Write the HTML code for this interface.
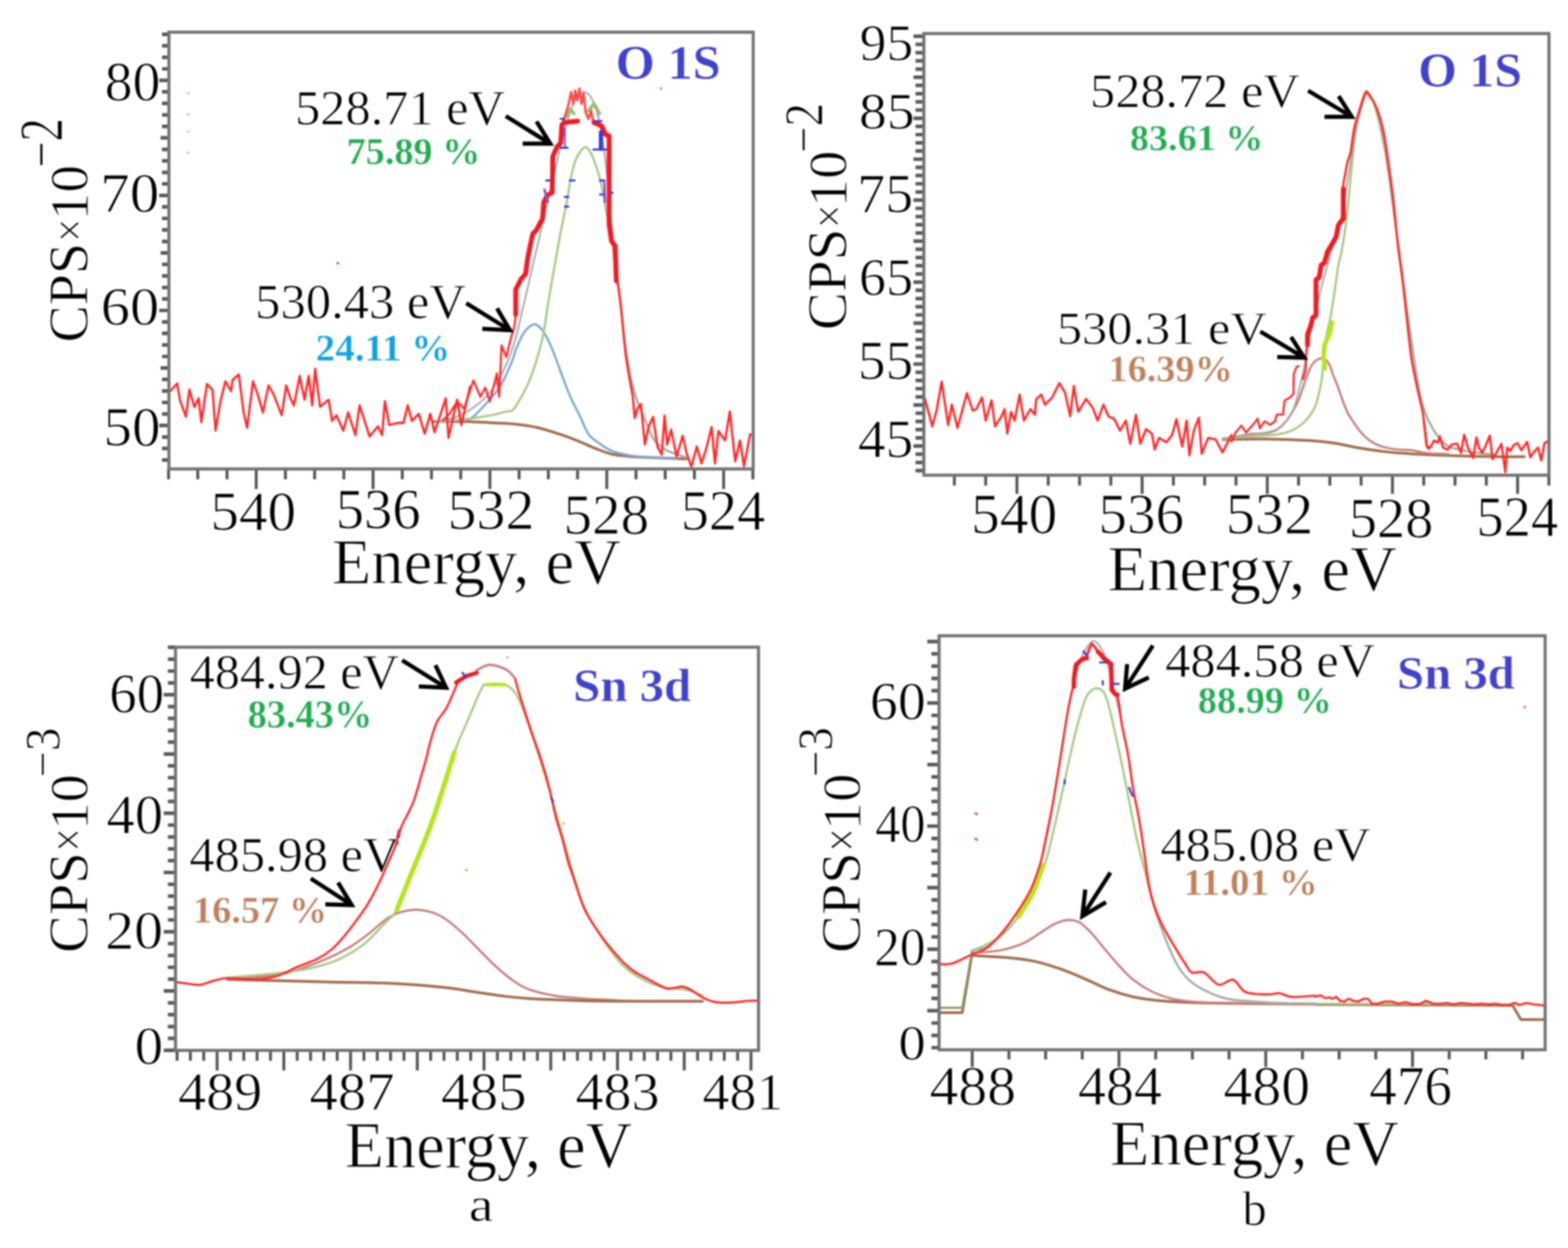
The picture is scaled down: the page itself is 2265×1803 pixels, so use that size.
<!DOCTYPE html>
<html><head><meta charset="utf-8"><title>XPS spectra</title>
<style>html,body{margin:0;padding:0;background:#fff;width:2265px;height:1803px;overflow:hidden}svg{display:block;filter:blur(0.9px)}</style>
</head><body>
<svg width="2265" height="1803" viewBox="0 0 2265 1803" font-family='"Liberation Serif", "Times New Roman", serif'>
<rect width="2265" height="1803" fill="#fff"/>
<path d="M234.0,664.6 H244.0 M234.0,647.9 H244.0 M234.0,631.3 H244.0 M230.0,614.7 H244.0 M234.0,598.1 H244.0 M234.0,581.5 H244.0 M234.0,564.8 H244.0 M234.0,548.2 H244.0 M232.0,531.6 H244.0 M234.0,515.0 H244.0 M234.0,498.4 H244.0 M234.0,481.7 H244.0 M234.0,465.1 H244.0 M230.0,448.5 H244.0 M234.0,431.9 H244.0 M234.0,415.3 H244.0 M234.0,398.6 H244.0 M234.0,382.0 H244.0 M232.0,365.4 H244.0 M234.0,348.8 H244.0 M234.0,332.2 H244.0 M234.0,315.5 H244.0 M234.0,298.9 H244.0 M230.0,282.3 H244.0 M234.0,265.7 H244.0 M234.0,249.1 H244.0 M234.0,232.4 H244.0 M234.0,215.8 H244.0 M232.0,199.2 H244.0 M234.0,182.6 H244.0 M234.0,166.0 H244.0 M234.0,149.3 H244.0 M234.0,132.7 H244.0 M230.0,116.1 H244.0 M234.0,99.5 H244.0 M234.0,82.9 H244.0 M234.0,66.2 H244.0 M234.0,49.6 H244.0" stroke="#5a5a5a" stroke-width="5.2" fill="none"/>
<path d="M1087.5,677.5 V692.5 M1045.3,677.5 V706.5 M1003.1,677.5 V692.5 M960.9,677.5 V692.5 M918.7,677.5 V692.5 M876.5,677.5 V706.5 M834.3,677.5 V692.5 M792.1,677.5 V692.5 M749.9,677.5 V692.5 M707.7,677.5 V706.5 M665.5,677.5 V692.5 M623.3,677.5 V692.5 M581.1,677.5 V692.5 M538.9,677.5 V706.5 M496.7,677.5 V692.5 M454.5,677.5 V692.5 M412.3,677.5 V692.5 M370.1,677.5 V706.5 M327.9,677.5 V692.5 M285.7,677.5 V692.5 M243.5,677.5 V692.5" stroke="#555" stroke-width="4.2" fill="none"/>
<path d="M1322.5,679.9 H1334.5 M1322.5,668.1 H1334.5 M1322.5,656.2 H1334.5 M1319.5,644.4 H1334.5 M1322.5,632.6 H1334.5 M1322.5,620.7 H1334.5 M1322.5,608.9 H1334.5 M1322.5,597.0 H1334.5 M1319.5,585.2 H1334.5 M1322.5,573.4 H1334.5 M1322.5,561.5 H1334.5 M1322.5,549.7 H1334.5 M1322.5,537.8 H1334.5 M1319.5,526.0 H1334.5 M1322.5,514.2 H1334.5 M1322.5,502.3 H1334.5 M1322.5,490.5 H1334.5 M1322.5,478.6 H1334.5 M1319.5,466.8 H1334.5 M1322.5,455.0 H1334.5 M1322.5,443.1 H1334.5 M1322.5,431.3 H1334.5 M1322.5,419.4 H1334.5 M1319.5,407.6 H1334.5 M1322.5,395.8 H1334.5 M1322.5,383.9 H1334.5 M1322.5,372.1 H1334.5 M1322.5,360.2 H1334.5 M1319.5,348.4 H1334.5 M1322.5,336.6 H1334.5 M1322.5,324.7 H1334.5 M1322.5,312.9 H1334.5 M1322.5,301.0 H1334.5 M1319.5,289.2 H1334.5 M1322.5,277.4 H1334.5 M1322.5,265.5 H1334.5 M1322.5,253.7 H1334.5 M1322.5,241.8 H1334.5 M1319.5,230.0 H1334.5 M1322.5,218.2 H1334.5 M1322.5,206.3 H1334.5 M1322.5,194.5 H1334.5 M1322.5,182.6 H1334.5 M1319.5,170.8 H1334.5 M1322.5,159.0 H1334.5 M1322.5,147.1 H1334.5 M1322.5,135.3 H1334.5 M1322.5,123.4 H1334.5 M1319.5,111.6 H1334.5 M1322.5,99.8 H1334.5 M1322.5,87.9 H1334.5 M1322.5,76.1 H1334.5 M1322.5,64.2 H1334.5 M1319.5,52.4 H1334.5" stroke="#5a5a5a" stroke-width="5.2" fill="none"/>
<path d="M2237.4,686.5 V701.5 M2192.2,686.5 V713.5 M2147.0,686.5 V701.5 M2101.8,686.5 V701.5 M2056.6,686.5 V701.5 M2011.4,686.5 V713.5 M1966.2,686.5 V701.5 M1921.0,686.5 V701.5 M1875.8,686.5 V701.5 M1830.6,686.5 V713.5 M1785.4,686.5 V701.5 M1740.2,686.5 V701.5 M1695.0,686.5 V701.5 M1649.8,686.5 V713.5 M1604.6,686.5 V701.5 M1559.4,686.5 V701.5 M1514.2,686.5 V701.5 M1469.0,686.5 V713.5 M1423.8,686.5 V701.5 M1378.6,686.5 V701.5" stroke="#555" stroke-width="4.2" fill="none"/>
<path d="M236.5,1517.3 H253.5 M242.5,1500.2 H253.5 M242.5,1483.1 H253.5 M242.5,1465.9 H253.5 M242.5,1448.8 H253.5 M236.5,1431.7 H253.5 M242.5,1414.6 H253.5 M242.5,1397.5 H253.5 M242.5,1380.3 H253.5 M242.5,1363.2 H253.5 M236.5,1346.1 H253.5 M242.5,1329.0 H253.5 M242.5,1311.9 H253.5 M242.5,1294.7 H253.5 M242.5,1277.6 H253.5 M236.5,1260.5 H253.5 M242.5,1243.4 H253.5 M242.5,1226.3 H253.5 M242.5,1209.1 H253.5 M242.5,1192.0 H253.5 M236.5,1174.9 H253.5 M242.5,1157.8 H253.5 M242.5,1140.7 H253.5 M242.5,1123.5 H253.5 M242.5,1106.4 H253.5 M236.5,1089.3 H253.5 M242.5,1072.2 H253.5 M242.5,1055.1 H253.5 M242.5,1037.9 H253.5 M242.5,1020.8 H253.5 M236.5,1003.7 H253.5 M242.5,986.6 H253.5 M242.5,969.5 H253.5 M242.5,952.3 H253.5 M242.5,935.2 H253.5" stroke="#5a5a5a" stroke-width="5.2" fill="none"/>
<path d="M1084.8,1517.5 V1546.5 M1065.5,1517.5 V1532.5 M1046.2,1517.5 V1532.5 M1027.0,1517.5 V1532.5 M1007.7,1517.5 V1532.5 M988.4,1517.5 V1546.5 M969.1,1517.5 V1532.5 M949.8,1517.5 V1532.5 M930.6,1517.5 V1532.5 M911.3,1517.5 V1532.5 M892.0,1517.5 V1546.5 M872.7,1517.5 V1532.5 M853.4,1517.5 V1532.5 M834.2,1517.5 V1532.5 M814.9,1517.5 V1532.5 M795.6,1517.5 V1546.5 M776.3,1517.5 V1532.5 M757.0,1517.5 V1532.5 M737.8,1517.5 V1532.5 M718.5,1517.5 V1532.5 M699.2,1517.5 V1546.5 M679.9,1517.5 V1532.5 M660.6,1517.5 V1532.5 M641.4,1517.5 V1532.5 M622.1,1517.5 V1532.5 M602.8,1517.5 V1546.5 M583.5,1517.5 V1532.5 M564.2,1517.5 V1532.5 M545.0,1517.5 V1532.5 M525.7,1517.5 V1532.5 M506.4,1517.5 V1546.5 M487.1,1517.5 V1532.5 M467.8,1517.5 V1532.5 M448.6,1517.5 V1532.5 M429.3,1517.5 V1532.5 M410.0,1517.5 V1546.5 M390.7,1517.5 V1532.5 M371.4,1517.5 V1532.5 M352.2,1517.5 V1532.5 M332.9,1517.5 V1532.5 M313.6,1517.5 V1546.5 M294.3,1517.5 V1532.5 M275.0,1517.5 V1532.5 M255.8,1517.5 V1532.5" stroke="#555" stroke-width="4.2" fill="none"/>
<path d="M1345.5,1513.5 H1356.5 M1345.5,1495.8 H1356.5 M1345.5,1478.0 H1356.5 M1339.5,1460.2 H1356.5 M1345.5,1442.4 H1356.5 M1345.5,1424.6 H1356.5 M1345.5,1406.9 H1356.5 M1345.5,1389.1 H1356.5 M1339.5,1371.3 H1356.5 M1345.5,1353.5 H1356.5 M1345.5,1335.7 H1356.5 M1345.5,1318.0 H1356.5 M1345.5,1300.2 H1356.5 M1339.5,1282.4 H1356.5 M1345.5,1264.6 H1356.5 M1345.5,1246.8 H1356.5 M1345.5,1229.1 H1356.5 M1345.5,1211.3 H1356.5 M1339.5,1193.5 H1356.5 M1345.5,1175.7 H1356.5 M1345.5,1157.9 H1356.5 M1345.5,1140.2 H1356.5 M1345.5,1122.4 H1356.5 M1339.5,1104.6 H1356.5 M1345.5,1086.8 H1356.5 M1345.5,1069.0 H1356.5 M1345.5,1051.3 H1356.5 M1345.5,1033.5 H1356.5 M1339.5,1015.7 H1356.5 M1345.5,997.9 H1356.5 M1345.5,980.1 H1356.5 M1345.5,962.4 H1356.5 M1345.5,944.6 H1356.5 M1339.5,926.8 H1356.5" stroke="#5a5a5a" stroke-width="5.2" fill="none"/>
<path d="M2199.4,1516.6 V1530.6 M2146.4,1516.6 V1530.6 M2093.4,1516.6 V1530.6 M2040.4,1516.6 V1541.6 M1987.4,1516.6 V1530.6 M1934.4,1516.6 V1530.6 M1881.4,1516.6 V1530.6 M1828.4,1516.6 V1541.6 M1775.4,1516.6 V1530.6 M1722.4,1516.6 V1530.6 M1669.4,1516.6 V1530.6 M1616.4,1516.6 V1541.6 M1563.4,1516.6 V1530.6 M1510.4,1516.6 V1530.6 M1457.4,1516.6 V1530.6 M1404.4,1516.6 V1541.6" stroke="#555" stroke-width="4.2" fill="none"/>
<path d="M626.0,609.0 C634.0,609.0 660.2,608.7 673.8,609.0 C687.4,609.3 696.3,610.1 707.6,610.7 C718.9,611.3 730.1,611.3 741.4,612.4 C752.7,613.5 763.9,615.0 775.2,617.5 C786.5,620.0 798.9,624.1 809.0,627.4 C819.1,630.7 827.5,634.1 836.0,637.5 C844.5,640.9 851.8,644.6 859.7,647.7 C867.6,650.8 874.9,654.0 883.4,656.0 C891.9,658.0 900.4,658.5 910.5,659.4 C920.6,660.3 930.8,660.6 944.3,661.2 C957.8,661.8 983.7,662.7 991.6,663.0" fill="none" stroke="#a36e4e" stroke-width="4" stroke-linejoin="round" stroke-linecap="round" />
<path d="M630.0,610.0 C635.0,609.5 651.6,608.0 660.0,607.0 C668.4,606.0 672.7,609.0 680.6,604.0 C688.5,599.0 700.3,585.2 707.6,577.0 C714.9,568.8 719.1,564.3 724.5,555.0 C729.9,545.7 736.6,529.2 740.0,521.0 C743.4,512.8 742.5,512.0 745.1,505.6 C747.7,499.2 752.1,488.2 755.4,482.6 C758.7,477.0 762.0,474.4 765.0,472.0 C768.0,469.6 770.2,467.6 773.3,468.5 C776.4,469.4 780.2,472.9 783.6,477.4 C787.0,481.9 790.4,488.1 793.8,495.4 C797.2,502.7 800.7,512.0 804.1,521.0 C807.5,530.0 811.0,540.2 814.4,549.2 C817.8,558.2 820.8,566.4 824.6,574.9 C828.4,583.4 833.2,591.8 837.4,600.5 C841.6,609.2 845.4,620.4 850.0,627.0 C854.6,633.6 859.5,636.0 865.0,640.0 C870.5,644.0 875.5,648.0 883.0,651.0 C890.5,654.0 900.5,656.3 910.0,658.0 C919.5,659.7 928.7,660.3 940.0,661.0 C951.3,661.7 971.7,661.8 978.0,662.0" fill="none" stroke="#7ea6d6" stroke-width="3.2" stroke-linejoin="round" stroke-linecap="round" />
<path d="M630.0,609.0 C637.3,608.4 661.1,606.9 674.0,605.4 C686.9,603.9 698.6,602.0 707.6,600.3 C716.6,598.6 722.5,596.5 727.9,595.3 C733.3,594.0 736.7,594.9 740.0,592.8 C743.3,590.7 744.3,588.1 747.7,582.6 C751.1,577.1 756.6,567.6 760.5,559.5 C764.4,551.4 767.8,542.3 770.8,533.8 C773.8,525.2 776.1,516.7 778.5,508.2 C780.9,499.7 782.8,493.7 784.9,482.6 C787.0,471.5 789.4,453.5 791.3,441.5 C793.2,429.5 794.5,421.9 796.4,410.8 C798.3,399.7 800.7,386.9 802.8,374.9 C804.9,362.9 807.3,349.3 809.2,339.0 C811.1,328.7 812.7,321.9 814.4,313.3 C816.1,304.8 817.8,297.1 819.5,287.7 C821.2,278.3 822.5,266.6 824.6,257.0 C826.7,247.4 828.8,237.3 832.0,230.0 C835.2,222.7 840.6,215.5 843.8,213.3 C847.0,211.1 848.6,214.0 851.0,217.0 C853.4,220.0 855.6,225.1 858.0,231.3 C860.4,237.5 863.5,246.7 865.6,254.4 C867.7,262.1 869.3,269.7 870.8,277.4 C872.3,285.1 873.1,292.8 874.6,300.5 C876.1,308.2 878.2,316.3 879.7,323.6 C881.2,330.9 882.5,337.3 883.6,344.1 C884.7,350.9 885.2,357.0 886.2,364.6 C887.2,372.2 888.4,382.1 889.5,390.0 C890.6,397.9 891.8,403.2 893.0,412.0 C894.2,420.8 895.7,431.0 897.0,443.0 C898.3,455.0 899.6,472.2 901.0,484.0 C902.4,495.8 903.8,503.8 905.5,514.0 C907.2,524.2 908.8,534.8 911.0,545.0 C913.2,555.2 916.2,566.5 919.0,575.0 C921.8,583.5 924.7,589.2 927.5,596.0 C930.3,602.8 932.6,609.2 935.7,616.0 C938.8,622.8 941.6,631.3 946.0,637.0 C950.4,642.7 956.3,646.7 962.0,650.0 C967.7,653.3 975.1,655.2 980.0,657.0 C984.9,658.8 989.7,660.3 991.6,661.0" fill="none" stroke="#a9c985" stroke-width="3.2" stroke-linejoin="round" stroke-linecap="round" />
<path d="M630.0,609.0 C635.0,607.8 650.8,605.5 660.0,602.0 C669.2,598.5 677.5,593.3 685.0,588.0 C692.5,582.7 698.8,577.2 705.0,570.0 C711.2,562.8 716.8,554.2 722.0,545.0 C727.2,535.8 732.0,525.0 736.0,515.0 C740.0,505.0 743.2,495.0 746.0,485.0 C748.8,475.0 750.7,465.0 753.0,455.0 C755.3,445.0 757.7,435.0 760.0,425.0 C762.3,415.0 764.7,405.0 767.0,395.0 C769.3,385.0 771.7,375.0 774.0,365.0 C776.3,355.0 778.7,345.0 781.0,335.0 C783.3,325.0 785.7,315.0 788.0,305.0 C790.3,295.0 792.7,285.0 795.0,275.0 C797.3,265.0 799.5,255.8 802.0,245.0 C804.5,234.2 807.3,220.8 810.0,210.0 C812.7,199.2 815.3,189.2 818.0,180.0 C820.7,170.8 823.3,161.7 826.0,155.0 C828.7,148.3 831.2,143.7 834.0,140.0 C836.8,136.3 840.2,133.5 843.0,133.0 C845.8,132.5 848.5,134.2 851.0,137.0 C853.5,139.8 855.7,144.2 858.0,150.0 C860.3,155.8 862.8,162.8 865.0,172.0 C867.2,181.2 869.2,192.8 871.0,205.0 C872.8,217.2 874.5,230.8 876.0,245.0 C877.5,259.2 878.7,275.8 880.0,290.0 C881.3,304.2 882.7,316.7 884.0,330.0 C885.3,343.3 886.5,356.3 888.0,370.0 C889.5,383.7 891.5,399.8 893.0,412.0 C894.5,424.2 895.7,431.0 897.0,443.0 C898.3,455.0 899.6,472.2 901.0,484.0 C902.4,495.8 903.8,503.8 905.5,514.0 C907.2,524.2 908.8,534.8 911.0,545.0 C913.2,555.2 916.2,566.5 919.0,575.0 C921.8,583.5 924.7,589.2 927.5,596.0 C930.3,602.8 932.6,609.2 935.7,616.0 C938.8,622.8 941.6,631.3 946.0,637.0 C950.4,642.7 956.3,646.7 962.0,650.0 C967.7,653.3 975.1,655.2 980.0,657.0 C984.9,658.8 989.7,660.3 991.6,661.0" fill="none" stroke="#a8a8a8" stroke-width="2.5" stroke-linejoin="round" stroke-linecap="round" />
<path d="M246.0,565.0 L256.0,554.0 L260.0,578.0 L268.6,602.0 L273.7,563.0 L280.8,588.0 L287.0,575.5 L291.0,610.0 L299.0,555.0 L307.0,563.0 L311.4,622.0 L318.6,579.6 L325.7,551.0 L333.9,565.0 L336.0,549.0 L345.0,541.0 L352.0,596.0 L357.0,618.0 L365.5,551.0 L372.7,571.0 L379.8,596.0 L388.0,557.0 L395.0,569.0 L407.0,600.0 L413.5,557.0 L419.6,575.5 L424.7,585.7 L433.0,543.0 L440.0,577.5 L446.0,543.0 L451.0,585.7 L455.3,532.7 L462.4,587.8 L474.7,577.5 L479.8,608.0 L486.0,600.0 L496.0,622.4 L503.0,596.0 L513.5,628.6 L519.6,585.7 L533.9,630.6 L546.0,616.0 L552.0,628.6 L556.0,579.6 L562.4,614.0 L574.7,611.0 L582.9,611.0 L589.0,585.7 L595.0,608.0 L605.0,598.0 L613.5,626.5 L621.6,598.0 L627.8,624.5 L644.0,575.5 L648.0,632.6 L660.4,577.5 L666.5,614.0 L678.8,559.0" fill="none" stroke="#ff2a2a" stroke-width="3.3" stroke-linejoin="round" stroke-linecap="round" />
<path d="M640.0,607.1 L650.1,597.0 L660.3,580.1 L670.4,590.2 L683.9,549.6 L694.1,573.3 L700.9,559.8 L707.6,580.1 L717.8,539.5 L721.1,573.3 L724.5,498.9 L731.3,515.8 L738.0,488.8 L743.1,471.9 L744.8,455.0" fill="none" stroke="#ff2a2a" stroke-width="3" stroke-linejoin="round" stroke-linecap="round" />
<path d="M890.0,405.6 L893.0,412.0 L897.0,443.0 L901.0,484.0 L904.0,514.0 L909.0,545.0 L914.0,572.0 L917.0,604.0 L921.0,590.0 L925.8,583.8 L931.6,642.3 L936.5,618.0 L943.3,602.3 L950.0,646.0 L956.0,656.9 L960.0,600.4 L963.8,642.3 L969.6,620.8 L977.4,659.8 L986.2,629.6 L992.0,655.0 L998.8,674.4 L1006.6,645.2 L1013.4,669.5 L1020.3,648.1 L1028.0,617.0 L1032.9,669.5 L1037.8,622.8 L1047.5,636.4 L1054.3,594.5 L1062.1,666.6 L1069.0,636.4 L1074.8,673.4 L1083.6,627.7 L1086.0,627.7" fill="none" stroke="#ff2a2a" stroke-width="3.3" stroke-linejoin="round" stroke-linecap="round" />
<path d="M818.0,168.0 L824.0,158.0 L829.0,164.0" fill="none" stroke="#98c070" stroke-width="5" stroke-linejoin="round" stroke-linecap="round" />
<path d="M850.0,160.0 L858.0,150.0 L866.0,164.0" fill="none" stroke="#98c070" stroke-width="5" stroke-linejoin="round" stroke-linecap="round" />
<path d="M813.0,178.0 L817.0,165.0 L821.0,152.0 L825.0,133.0 L828.0,150.0 L831.0,131.0 L834.0,145.0 L837.0,128.0 L840.0,150.0 L843.0,135.0 L846.0,162.0 L850.0,172.0 L854.0,160.0 L857.0,177.0" fill="none" stroke="#ff4a4a" stroke-width="3.5" stroke-linejoin="round" stroke-linecap="round" />
<path d="M745.0,454.0 L745.0,418.5 L752.8,403.0 L759.2,396.0 L762.0,375.0 L766.2,353.5 L769.7,337.8 L775.0,332.5 L780.2,322.0 L783.7,316.8 L785.5,292.3 L790.7,281.8 L797.7,278.3 L798.6,225.9 L804.7,211.9 L810.0,206.6 L811.7,180.4 L815.2,176.9 L834.4,175.0" fill="none" stroke="#ee1c25" stroke-width="7" stroke-linejoin="round" stroke-linecap="round" />
<path d="M858.0,177.0 L869.4,182.2 L874.6,194.4 L879.9,196.2 L879.9,323.8 L883.4,348.3 L888.6,355.2 L890.3,405.6" fill="none" stroke="#ee1c25" stroke-width="7" stroke-linejoin="round" stroke-linecap="round" />
<path d="M1766.6,634.9 C1776.6,634.8 1805.4,633.9 1826.4,634.2 C1847.5,634.5 1876.3,635.6 1892.9,636.5 C1909.5,637.5 1915.0,638.2 1926.1,639.9 C1937.2,641.5 1948.2,644.6 1959.3,646.5 C1970.4,648.4 1981.5,650.1 1992.5,651.5 C2003.6,652.9 2009.1,653.7 2025.7,654.8 C2042.4,655.9 2070.0,657.3 2092.2,658.1 C2114.3,659.0 2140.3,659.5 2158.6,659.8 C2176.9,660.1 2194.6,659.8 2201.8,659.8" fill="none" stroke="#a36e4e" stroke-width="4" stroke-linejoin="round" stroke-linecap="round" />
<path d="M1766.6,636.0 C1770.5,635.0 1782.8,631.5 1790.0,630.0 C1797.2,628.5 1803.3,627.4 1809.9,626.7 C1816.5,626.0 1823.9,626.7 1829.7,625.7 C1835.5,624.7 1840.0,623.5 1844.6,620.7 C1849.2,617.9 1853.7,613.2 1857.5,608.8 C1861.3,604.3 1864.4,599.0 1867.4,594.0 C1870.4,589.0 1872.8,584.9 1875.3,579.1 C1877.8,573.3 1880.0,565.9 1882.3,559.3 C1884.6,552.7 1886.7,545.3 1889.2,539.5 C1891.7,533.7 1894.1,528.2 1897.1,524.6 C1900.1,521.0 1904.2,518.6 1907.0,517.7 C1909.8,516.8 1911.7,517.5 1914.0,519.0 C1916.3,520.5 1918.8,523.5 1920.6,527.0 C1922.4,530.5 1923.0,534.7 1925.0,540.0 C1927.0,545.3 1930.2,552.4 1932.5,558.6 C1934.8,564.8 1936.7,570.9 1939.0,577.1 C1941.3,583.3 1943.6,590.1 1946.4,595.7 C1949.2,601.3 1952.6,605.9 1955.7,610.5 C1958.8,615.1 1961.5,619.5 1964.9,623.5 C1968.3,627.5 1972.1,631.5 1976.0,634.6 C1979.9,637.7 1983.8,640.0 1988.1,642.0 C1992.4,644.0 1996.6,645.5 2002.0,646.7 C2007.4,648.0 2014.4,648.9 2020.6,649.5 C2026.8,650.1 2032.4,649.6 2039.0,650.4 C2045.6,651.2 2051.2,653.6 2060.0,654.5 C2068.8,655.4 2086.7,655.8 2092.0,656.0" fill="none" stroke="#c97f7f" stroke-width="3.2" stroke-linejoin="round" stroke-linecap="round" />
<path d="M1766.6,633.2 C1772.2,632.8 1791.1,631.6 1800.0,631.0 C1808.9,630.4 1812.4,630.2 1819.8,629.7 C1827.2,629.2 1837.2,628.9 1844.6,627.7 C1852.0,626.5 1858.6,625.0 1864.4,622.7 C1870.2,620.4 1875.2,616.9 1879.3,613.8 C1883.4,610.7 1885.9,608.0 1889.2,603.9 C1892.5,599.8 1896.4,594.8 1899.0,589.0 C1901.6,583.2 1903.3,575.8 1905.0,569.2 C1906.7,562.6 1908.0,555.7 1909.0,549.4 C1910.0,543.1 1910.5,537.7 1911.0,531.5 C1911.5,525.3 1911.4,518.1 1912.0,512.0 C1912.6,505.9 1913.7,500.3 1914.5,495.0 C1915.3,489.7 1915.9,485.3 1917.0,480.0 C1918.1,474.7 1919.7,469.7 1921.0,463.0 C1922.3,456.3 1923.6,448.8 1925.0,440.0 C1926.4,431.2 1928.2,419.2 1929.5,410.0 C1930.8,400.8 1931.6,392.8 1933.0,385.0 C1934.4,377.2 1936.3,371.4 1937.8,363.5 C1939.3,355.6 1940.9,346.1 1942.2,337.3 C1943.5,328.6 1944.7,319.8 1945.7,311.0 C1946.7,302.2 1947.4,293.5 1948.3,284.8 C1949.2,276.1 1950.0,267.3 1950.9,258.6 C1951.8,249.9 1952.6,240.9 1953.5,232.4 C1954.4,223.9 1955.2,216.1 1956.2,207.9 C1957.2,199.7 1958.2,191.0 1959.7,183.4 C1961.2,175.8 1963.1,169.1 1964.9,162.4 C1966.7,155.7 1968.7,147.4 1970.5,143.0 C1972.3,138.6 1974.3,136.5 1976.0,136.0 C1977.7,135.5 1979.0,136.0 1980.9,139.9 C1982.8,143.9 1985.3,152.1 1987.5,159.9 C1989.8,167.6 1992.0,176.5 1994.2,186.4 C1996.4,196.4 1998.6,206.9 2000.8,219.7 C2003.0,232.4 2005.3,247.3 2007.5,262.8 C2009.7,278.3 2011.9,296.6 2014.1,312.7 C2016.3,328.7 2018.5,343.1 2020.8,359.2 C2023.0,375.2 2025.2,392.4 2027.4,409.0 C2029.6,425.6 2031.8,442.8 2034.0,458.8 C2036.3,474.9 2038.5,490.4 2040.7,505.3 C2042.9,520.3 2045.1,535.8 2047.3,548.5 C2049.6,561.2 2051.5,572.3 2054.0,581.7 C2056.5,591.1 2058.7,597.2 2062.3,605.0 C2065.9,612.7 2070.6,621.6 2075.6,628.2 C2080.6,634.9 2083.9,640.7 2092.2,644.8 C2100.5,649.0 2114.3,651.2 2125.4,653.2 C2136.5,655.1 2153.1,655.9 2158.6,656.5" fill="none" stroke="#a9c985" stroke-width="3.2" stroke-linejoin="round" stroke-linecap="round" />
<path d="M1766.6,633.2 C1770.5,632.7 1782.8,630.9 1790.0,630.0 C1797.2,629.1 1803.3,628.6 1809.9,627.7 C1816.5,626.8 1823.4,626.2 1829.7,624.7 C1836.0,623.2 1842.3,622.3 1847.6,618.8 C1852.9,615.3 1857.8,608.9 1861.4,603.9 C1865.0,598.9 1866.8,596.4 1869.4,589.0 C1872.1,581.6 1875.0,568.3 1877.3,559.3 C1879.6,550.3 1881.3,543.2 1883.0,535.0 C1884.7,526.8 1886.0,518.3 1887.5,510.0 C1889.0,501.7 1890.2,493.3 1892.0,485.0 C1893.8,476.7 1896.0,468.3 1898.0,460.0 C1900.0,451.7 1902.0,443.3 1904.0,435.0 C1906.0,426.7 1907.8,418.3 1910.0,410.0 C1912.2,401.7 1914.7,393.3 1917.0,385.0 C1919.3,376.7 1921.2,369.2 1924.0,360.0 C1926.8,350.8 1931.3,340.0 1934.0,330.0 C1936.7,320.0 1938.2,310.0 1940.0,300.0 C1941.8,290.0 1943.5,279.2 1945.0,270.0 C1946.5,260.8 1947.7,253.3 1949.0,245.0 C1950.3,236.7 1951.7,228.3 1953.0,220.0 C1954.3,211.7 1955.5,203.3 1957.0,195.0 C1958.5,186.7 1960.2,178.0 1962.0,170.0 C1963.8,162.0 1966.0,152.8 1968.0,147.0 C1970.0,141.2 1972.1,136.1 1974.3,134.9 C1976.5,133.7 1978.4,135.8 1980.9,139.9 C1983.4,144.1 1986.2,148.8 1989.2,159.9 C1992.3,170.9 1996.1,189.2 1999.2,206.4 C2002.2,223.5 2005.0,245.1 2007.5,262.8 C2010.0,280.6 2011.9,296.6 2014.1,312.7 C2016.3,328.7 2018.5,343.1 2020.8,359.2 C2023.0,375.2 2025.2,392.4 2027.4,409.0 C2029.6,425.6 2031.8,442.8 2034.0,458.8 C2036.3,474.9 2038.5,490.4 2040.7,505.3 C2042.9,520.3 2045.1,535.8 2047.3,548.5 C2049.6,561.2 2051.5,572.3 2054.0,581.7 C2056.5,591.1 2058.7,597.2 2062.3,605.0 C2065.9,612.7 2070.6,621.6 2075.6,628.2 C2080.6,634.9 2083.9,640.7 2092.2,644.8 C2100.5,649.0 2114.3,651.2 2125.4,653.2 C2136.5,655.1 2153.1,655.9 2158.6,656.5" fill="none" stroke="#a8a8a8" stroke-width="2.5" stroke-linejoin="round" stroke-linecap="round" />
<path d="M1924.0,466.0 L1921.0,482.0 L1916.0,492.0 L1913.0,500.0 L1912.0,515.0 L1914.0,532.0" fill="none" stroke="#b5e61d" stroke-width="6.5" stroke-linejoin="round" stroke-linecap="round" />
<path d="M1336.0,576.4 L1336.3,576.4 L1346.7,616.0 L1353.0,593.1 L1360.3,551.3 L1369.7,613.9 L1374.9,584.7 L1383.2,618.1 L1390.5,591.0 L1396.8,568.0 L1405.1,593.1 L1410.4,591.0 L1418.7,574.3 L1423.9,607.7 L1432.3,578.4 L1437.5,616.0 L1446.9,601.4 L1451.1,591.0 L1455.2,626.4 L1460.5,595.1 L1465.7,607.7 L1473.0,570.1 L1479.2,607.7 L1488.6,591.0 L1494.9,599.3 L1497.0,576.4 L1504.3,570.1 L1509.5,584.7 L1519.9,574.3 L1530.4,553.4 L1538.7,568.0 L1546.0,601.4 L1551.2,557.6 L1557.5,595.1 L1569.0,576.4 L1578.4,588.9 L1585.7,607.7 L1594.0,584.7 L1601.3,601.4 L1609.7,605.6 L1618.0,622.3 L1626.4,607.7 L1632.7,641.1 L1641.0,599.3 L1647.3,641.1 L1655.6,620.2 L1664.0,626.4 L1668.1,649.4 L1674.4,632.7 L1684.8,639.0 L1693.2,628.5 L1699.4,605.6 L1707.8,645.2 L1714.1,607.7 L1718.2,657.8 L1724.5,622.3 L1731.8,603.5 L1736.0,655.7 L1745.4,632.7 L1755.8,634.8 L1766.2,653.6 L1778.8,628.5" fill="none" stroke="#ff2a2a" stroke-width="3.3" stroke-linejoin="round" stroke-linecap="round" />
<path d="M2056.7,607.8 L2061.3,644.9 L2066.0,646.8 L2071.5,636.6 L2077.1,639.4 L2079.9,630.1 L2084.5,646.8 L2091.0,649.6 L2097.5,642.2 L2105.0,641.2 L2110.5,654.2 L2115.1,628.2 L2120.7,646.8 L2128.1,661.6 L2132.8,632.0 L2136.5,646.8 L2141.1,654.2 L2145.8,644.9 L2152.2,629.2 L2156.0,663.5 L2160.6,656.1 L2168.9,641.2 L2174.5,682.0 L2177.3,646.8 L2181.9,651.4 L2186.6,643.1 L2192.1,640.3 L2197.7,650.5 L2206.0,638.4 L2210.7,660.7 L2216.3,652.4 L2221.8,646.8 L2226.5,665.3 L2231.1,640.3 L2235.7,637.5" fill="none" stroke="#ff2a2a" stroke-width="3.3" stroke-linejoin="round" stroke-linecap="round" />
<path d="M1778.9,638.2 L1784.9,624.9 L1793.2,614.9 L1800.0,624.7 L1809.9,613.8 L1816.8,604.9 L1819.8,618.8 L1826.8,608.8 L1834.7,613.8 L1841.6,608.8 L1844.6,599.0 L1853.5,599.0 L1855.5,579.1 L1863.4,574.2 L1868.4,569.2 L1869.0,540.0 L1873.0,530.0 L1876.0,529.0" fill="none" stroke="#ff2a2a" stroke-width="3" stroke-linejoin="round" stroke-linecap="round" />
<path d="M1882.0,548.0 L1886.2,534.5 L1887.2,504.8 L1889.0,498.0" fill="none" stroke="#ff2a2a" stroke-width="3" stroke-linejoin="round" stroke-linecap="round" />
<path d="M1939.4,272.8 C1940.5,266.7 1944.1,245.1 1946.0,236.3 C1948.0,227.4 1949.3,228.0 1951.0,219.7 C1952.7,211.3 1954.0,195.8 1956.0,186.4 C1957.9,177.0 1959.9,172.0 1962.6,163.2 C1965.4,154.3 1969.8,137.2 1972.6,133.3 C1975.4,129.4 1977.0,137.2 1979.2,139.9 C1981.5,142.7 1983.7,145.5 1985.9,149.9 C1988.1,154.3 1990.3,159.3 1992.5,166.5 C1994.7,173.7 1997.0,181.5 1999.2,193.1 C2001.4,204.7 2003.6,220.8 2005.8,236.3 C2008.0,251.8 2010.2,266.7 2012.5,286.1 C2014.7,305.5 2016.9,333.1 2019.1,352.5 C2021.3,371.9 2023.5,384.1 2025.7,402.4 C2028.0,420.6 2030.2,442.8 2032.4,462.1 C2034.6,481.5 2036.3,500.9 2039.0,518.6 C2041.8,536.3 2046.2,555.2 2049.0,568.4 C2051.8,581.7 2053.7,586.2 2055.6,598.3 C2057.6,610.5 2059.2,633.2 2060.6,641.5 C2062.0,649.8 2063.4,647.1 2063.9,648.2" fill="none" stroke="#ff2a2a" stroke-width="3.2" stroke-linejoin="round" stroke-linecap="round" />
<path d="M1888.8,498.2 L1888.8,483.0 L1893.3,471.0 L1896.4,458.8 L1901.0,455.8 L1901.0,404.2 L1905.5,401.2 L1908.5,383.0 L1913.0,380.0 L1917.7,363.5 L1923.0,354.8 L1930.0,342.5 L1933.4,325.0 L1937.0,320.0 L1940.5,316.0 L1940.5,273.0" fill="none" stroke="#ee1c25" stroke-width="7" stroke-linejoin="round" stroke-linecap="round" />
<path d="M328.8,1414.9 C342.0,1413.6 384.7,1411.6 407.7,1407.0 C430.7,1402.4 450.4,1393.9 466.8,1387.3 C483.3,1380.8 495.1,1374.2 506.3,1367.6 C517.4,1361.0 525.3,1354.5 533.9,1347.9 C542.4,1341.3 550.3,1333.1 557.5,1328.2 C564.7,1323.3 570.0,1320.6 577.2,1318.3 C584.5,1316.0 593.0,1314.4 600.9,1314.4 C608.8,1314.4 617.3,1316.0 624.5,1318.3 C631.8,1320.6 637.0,1323.3 644.2,1328.2 C651.5,1333.1 660.0,1340.7 667.9,1347.9 C675.8,1355.1 683.7,1363.7 691.6,1371.6 C699.4,1379.4 707.3,1388.0 715.2,1395.2 C723.1,1402.4 731.0,1409.3 738.9,1414.9 C746.7,1420.5 752.0,1424.8 762.5,1428.7 C773.0,1432.7 788.8,1436.3 801.9,1438.6 C815.1,1440.9 828.2,1441.5 841.4,1442.5 C854.5,1443.5 867.6,1443.8 880.8,1444.5 C893.9,1445.1 897.9,1446.1 920.2,1446.5 C942.6,1446.8 999.1,1446.5 1014.8,1446.5" fill="none" stroke="#c97f7f" stroke-width="3.2" stroke-linejoin="round" stroke-linecap="round" />
<path d="M328.8,1412.9 C335.4,1412.3 355.1,1410.3 368.3,1409.0 C381.4,1407.7 394.6,1406.7 407.7,1405.1 C420.8,1403.4 434.0,1402.1 447.1,1399.2 C460.3,1396.2 473.4,1393.2 486.5,1387.3 C499.7,1381.4 514.1,1372.9 526.0,1363.7 C537.8,1354.5 549.6,1340.3 557.5,1332.1 C565.4,1323.9 567.4,1325.6 573.3,1314.4 C579.2,1303.2 584.5,1286.5 593.0,1265.1 C601.5,1243.8 614.0,1215.8 624.5,1186.3 C635.0,1156.7 647.5,1112.0 656.1,1087.7 C664.6,1063.4 669.2,1055.8 675.8,1040.4 C682.4,1024.9 690.9,1003.6 695.5,995.1 C700.1,986.5 697.8,990.1 703.4,989.1 C709.0,988.2 721.8,986.5 729.0,989.1 C736.2,991.8 741.2,995.7 746.7,1004.9 C752.3,1014.1 757.3,1029.9 762.5,1044.3 C767.8,1058.8 773.0,1075.2 778.3,1091.6 C783.5,1108.1 788.8,1125.2 794.1,1142.9 C799.3,1160.6 804.6,1179.7 809.8,1198.1 C815.1,1216.5 820.3,1235.5 825.6,1253.3 C830.9,1271.0 834.8,1288.8 841.4,1304.5 C847.9,1320.3 855.8,1333.4 865.0,1347.9 C874.2,1362.4 886.0,1380.1 896.6,1391.3 C907.1,1402.4 917.6,1409.0 928.1,1414.9 C938.6,1420.8 949.1,1424.3 959.6,1426.7 C970.2,1429.2 982.0,1427.9 991.2,1429.9 C1000.4,1431.9 1010.9,1437.1 1014.8,1438.6" fill="none" stroke="#a9c985" stroke-width="3.2" stroke-linejoin="round" stroke-linecap="round" />
<path d="M328.8,1414.9 C342.0,1415.2 381.4,1416.2 407.7,1416.9 C434.0,1417.5 460.3,1418.2 486.5,1418.9 C512.8,1419.5 539.1,1419.5 565.4,1420.8 C591.7,1422.1 624.5,1424.8 644.2,1426.7 C664.0,1428.7 670.5,1430.7 683.7,1432.7 C696.8,1434.6 710.0,1436.9 723.1,1438.6 C736.2,1440.2 742.8,1441.3 762.5,1442.5 C782.2,1443.7 815.1,1445.0 841.4,1445.7 C867.6,1446.3 891.3,1446.3 920.2,1446.5 C949.1,1446.6 999.1,1446.5 1014.8,1446.5" fill="none" stroke="#a36e4e" stroke-width="4" stroke-linejoin="round" stroke-linecap="round" />
<path d="M573.3,1314.4 C576.6,1306.2 584.5,1286.5 593.0,1265.1 C601.5,1243.8 614.0,1215.8 624.5,1186.3 C635.0,1156.7 650.8,1104.1 656.1,1087.7" fill="none" stroke="#b5e61d" stroke-width="7" stroke-linejoin="round" stroke-linecap="round" />
<path d="M703.4,989.1 L729.0,989.1" fill="none" stroke="#b5e61d" stroke-width="5" stroke-linejoin="round" stroke-linecap="round" />
<path d="M253.9,1418.9 C256.6,1419.2 264.1,1420.3 270.0,1421.0 C275.9,1421.7 282.9,1423.5 289.4,1422.8 C295.9,1422.1 302.5,1418.5 309.1,1416.9 C315.7,1415.3 318.9,1413.3 328.8,1413.0 C338.7,1412.7 356.4,1415.4 368.3,1414.9 C380.2,1414.4 389.9,1413.2 400.0,1410.2 C410.1,1407.2 419.4,1401.1 429.1,1397.0 C438.8,1392.9 449.8,1389.8 458.3,1385.4 C466.8,1381.1 473.3,1376.7 480.1,1370.9 C486.9,1365.1 493.4,1357.1 499.0,1350.5 C504.6,1343.9 508.7,1338.1 513.6,1331.5 C518.5,1324.9 523.8,1317.9 528.2,1311.1 C532.6,1304.3 536.0,1298.0 539.9,1290.7 C543.8,1283.4 548.1,1274.7 551.5,1267.4 C554.9,1260.1 557.4,1253.6 560.3,1247.0 C563.2,1240.4 566.5,1234.2 569.0,1228.0 C571.5,1221.8 573.6,1215.8 575.5,1210.0 C577.4,1204.2 578.4,1198.3 580.5,1193.0 C582.6,1187.7 585.1,1184.0 588.0,1178.0 C590.9,1172.0 594.3,1166.6 597.7,1157.3 C601.1,1148.0 605.3,1132.2 608.2,1122.3 C611.1,1112.4 612.9,1106.5 615.2,1097.8 C617.5,1089.1 619.6,1078.9 622.2,1069.9 C624.8,1060.9 627.2,1051.5 631.0,1043.6 C634.8,1035.7 640.9,1030.0 645.0,1022.7 C649.1,1015.4 652.8,1005.7 655.4,999.9 C658.0,994.1 659.7,990.0 660.6,988.0" fill="none" stroke="#ff2a2a" stroke-width="3.2" stroke-linejoin="round" stroke-linecap="round" />
<path d="M688.6,968.0 C691.5,966.8 700.2,961.3 706.0,960.6 C711.8,959.9 718.8,962.4 723.6,964.0 C728.4,965.6 731.5,967.2 735.0,970.0 C738.5,972.8 742.9,978.9 744.5,980.7" fill="none" stroke="#c97f7f" stroke-width="3.5" stroke-linejoin="round" stroke-linecap="round" />
<path d="M744.5,982.0 C745.1,984.2 746.2,989.1 748.0,995.0 C749.8,1000.9 751.8,1007.2 755.0,1017.4 C758.2,1027.5 763.2,1043.7 767.3,1055.9 C771.4,1068.1 776.0,1080.3 779.5,1090.8 C783.0,1101.3 785.4,1108.3 788.3,1118.8 C791.2,1129.3 794.6,1143.6 797.0,1153.8 C799.4,1164.0 800.2,1170.2 802.8,1180.0 C805.4,1189.8 809.6,1201.7 812.6,1212.6 C815.6,1223.5 818.1,1235.8 820.8,1245.3 C823.5,1254.8 826.3,1261.5 829.0,1269.7 C831.7,1277.9 834.4,1286.6 837.1,1294.2 C839.8,1301.8 842.0,1308.6 845.3,1315.4 C848.6,1322.2 852.4,1328.2 856.7,1335.0 C861.1,1341.8 866.5,1349.7 871.4,1356.2 C876.3,1362.7 880.9,1368.2 886.1,1374.2 C891.3,1380.2 897.0,1386.9 902.4,1392.1 C907.8,1397.3 911.9,1400.8 918.7,1405.2 C925.5,1409.6 935.9,1414.5 943.2,1418.3 C950.6,1422.1 957.5,1426.5 962.8,1428.0 C968.1,1429.5 970.9,1427.4 975.0,1427.0 C979.1,1426.6 983.0,1424.9 987.2,1425.6 C991.4,1426.3 995.7,1428.7 1000.3,1431.3 C1004.9,1433.9 1009.5,1438.4 1015.0,1441.1 C1020.5,1443.8 1025.9,1446.4 1033.0,1447.6 C1040.1,1448.8 1049.2,1448.7 1057.4,1448.4 C1065.6,1448.1 1075.8,1446.4 1081.9,1446.0 C1088.0,1445.6 1092.0,1446.0 1094.0,1446.0" fill="none" stroke="#ff2a2a" stroke-width="3.2" stroke-linejoin="round" stroke-linecap="round" />
<path d="M658.9,986.0 L672.9,977.2 L688.6,972.0" fill="none" stroke="#ee1c25" stroke-width="6" stroke-linejoin="round" stroke-linecap="round" />
<path d="M573.0,1218.0 L577.0,1200.0" fill="none" stroke="#ee1c25" stroke-width="5" stroke-linejoin="round" stroke-linecap="round" />
<path d="M1357.0,1463.0 L1390.0,1463.0 L1404.4,1376.0" fill="none" stroke="#a36e4e" stroke-width="4" stroke-linejoin="round" stroke-linecap="round" />
<path d="M1357.0,1456.0 L1390.0,1456.0 L1404.4,1373.0" fill="none" stroke="#7f9a5a" stroke-width="3" stroke-linejoin="round" stroke-linecap="round" />
<path d="M1404.4,1380.3 C1413.8,1380.9 1445.5,1382.4 1460.8,1383.9 C1476.0,1385.3 1484.3,1386.5 1496.0,1389.1 C1507.8,1391.8 1519.5,1395.6 1531.3,1399.7 C1543.0,1403.8 1554.8,1408.8 1566.5,1413.8 C1578.3,1418.8 1590.0,1425.3 1601.8,1429.7 C1613.5,1434.1 1625.3,1437.6 1637.0,1440.3 C1648.8,1442.9 1654.6,1444.1 1672.3,1445.5 C1689.9,1447.0 1704.8,1448.2 1742.8,1449.1 C1780.7,1450.0 1873.8,1450.5 1900.0,1450.8" fill="none" stroke="#a36e4e" stroke-width="4" stroke-linejoin="round" stroke-linecap="round" />
<path d="M1900.0,1451.0 L2185.0,1452.5 L2197.0,1473.0 L2231.0,1473.0" fill="none" stroke="#a36e4e" stroke-width="4" stroke-linejoin="round" stroke-linecap="round" />
<path d="M1404.4,1376.8 C1410.8,1376.2 1430.8,1375.6 1443.1,1373.3 C1455.5,1370.9 1467.8,1367.4 1478.4,1362.7 C1489.0,1358.0 1498.9,1349.8 1506.6,1345.1 C1514.2,1340.4 1518.3,1337.1 1524.2,1334.5 C1530.1,1331.9 1536.0,1329.5 1541.8,1329.2 C1547.7,1328.9 1553.6,1329.5 1559.5,1332.7 C1565.3,1336.0 1571.2,1342.4 1577.1,1348.6 C1583.0,1354.8 1588.3,1362.1 1594.7,1369.8 C1601.2,1377.4 1608.8,1386.8 1615.9,1394.4 C1622.9,1402.1 1629.4,1409.4 1637.0,1415.6 C1644.7,1421.8 1652.9,1427.0 1661.7,1431.4 C1670.5,1435.9 1679.3,1439.4 1689.9,1442.0 C1700.5,1444.7 1710.5,1446.1 1725.1,1447.3 C1739.8,1448.5 1748.9,1448.6 1778.0,1449.1 C1807.2,1449.5 1879.7,1450.0 1900.0,1450.1" fill="none" stroke="#c97f7f" stroke-width="3.2" stroke-linejoin="round" stroke-linecap="round" />
<path d="M1404.4,1373.3 C1407.9,1371.8 1417.9,1368.6 1425.5,1364.5 C1433.1,1360.4 1442.5,1355.4 1450.2,1348.6 C1457.8,1341.8 1464.3,1333.9 1471.3,1323.9 C1478.4,1313.9 1486.0,1301.6 1492.5,1288.7 C1498.9,1275.7 1504.8,1262.8 1510.1,1246.4 C1515.4,1229.9 1519.5,1209.9 1524.2,1190.0 C1528.9,1170.0 1533.6,1147.7 1538.3,1126.5 C1543.0,1105.4 1547.7,1081.9 1552.4,1063.1 C1557.1,1044.3 1562.9,1024.2 1566.5,1013.7 C1570.1,1003.2 1571.1,1003.2 1574.0,1000.0 C1576.9,996.8 1580.5,994.1 1584.0,994.3 C1587.5,994.5 1591.8,995.9 1595.0,1001.0 C1598.2,1006.1 1600.3,1015.2 1603.0,1025.0 C1605.7,1034.8 1608.5,1048.7 1611.0,1060.0 C1613.5,1071.3 1615.1,1077.8 1618.3,1093.0 C1621.5,1108.2 1626.1,1132.0 1630.0,1151.5 C1633.9,1171.0 1637.7,1192.3 1641.6,1209.8 C1645.5,1227.3 1649.3,1240.9 1653.2,1256.4 C1657.1,1271.9 1661.0,1289.2 1665.0,1303.0 C1669.0,1316.8 1672.8,1327.5 1677.0,1339.0 C1681.2,1350.5 1685.7,1362.2 1690.0,1372.0 C1694.3,1381.8 1698.0,1390.3 1703.0,1398.0 C1708.0,1405.7 1713.0,1412.2 1720.0,1418.0 C1727.0,1423.8 1735.3,1428.7 1745.0,1433.0 C1754.7,1437.3 1760.8,1441.1 1778.0,1443.8 C1795.2,1446.5 1828.2,1448.0 1848.5,1449.0 C1868.8,1450.0 1891.4,1449.8 1900.0,1450.0" fill="none" stroke="#a9c985" stroke-width="3.2" stroke-linejoin="round" stroke-linecap="round" />
<path d="M1900.0,1450.0 L2185.0,1451.0" fill="none" stroke="#a9c985" stroke-width="3.2" stroke-linejoin="round" stroke-linecap="round" />
<path d="M1404.4,1373.3 C1407.9,1372.4 1418.5,1372.1 1425.5,1368.0 C1432.6,1363.9 1439.6,1356.5 1446.7,1348.6 C1453.7,1340.7 1460.8,1331.0 1467.8,1320.4 C1474.9,1309.8 1483.1,1297.5 1489.0,1285.1 C1494.8,1272.8 1498.4,1263.4 1503.1,1246.4 C1507.8,1229.3 1512.5,1207.6 1517.2,1182.9 C1521.9,1158.2 1526.6,1126.5 1531.3,1098.3 C1536.0,1070.1 1540.7,1037.2 1545.4,1013.7 C1550.1,990.2 1555.2,970.6 1559.5,957.3 C1563.7,944.0 1567.6,939.2 1571.0,934.0 C1574.4,928.8 1577.0,926.0 1580.0,926.0 C1583.0,926.0 1586.2,930.0 1589.0,934.0 C1591.8,938.0 1594.5,943.2 1597.0,950.0 C1599.5,956.8 1601.8,966.7 1604.0,975.0 C1606.2,983.3 1608.0,991.7 1610.0,1000.0 C1612.0,1008.3 1614.2,1017.2 1616.0,1025.0 C1617.8,1032.8 1618.7,1035.7 1621.0,1047.0 C1623.3,1058.3 1627.3,1077.5 1630.0,1093.0 C1632.7,1108.5 1634.3,1124.4 1637.0,1140.0 C1639.7,1155.6 1643.3,1171.0 1646.0,1186.5 C1648.7,1202.0 1650.7,1217.4 1653.0,1233.0 C1655.3,1248.6 1657.7,1267.2 1660.0,1280.0 C1662.3,1292.8 1664.2,1300.2 1667.0,1310.0 C1669.8,1319.8 1673.2,1328.7 1677.0,1339.0 C1680.8,1349.3 1685.7,1362.2 1690.0,1372.0 C1694.3,1381.8 1698.0,1390.3 1703.0,1398.0 C1708.0,1405.7 1713.0,1412.2 1720.0,1418.0 C1727.0,1423.8 1735.3,1428.7 1745.0,1433.0 C1754.7,1437.3 1760.8,1441.1 1778.0,1443.8 C1795.2,1446.5 1828.2,1448.0 1848.5,1449.0 C1868.8,1450.0 1891.4,1449.8 1900.0,1450.0" fill="none" stroke="#a8a8a8" stroke-width="2.5" stroke-linejoin="round" stroke-linecap="round" />
<path d="M1471.3,1323.9 C1474.9,1318.1 1486.6,1301.0 1492.5,1288.7 C1498.4,1276.3 1504.2,1256.4 1506.6,1249.9" fill="none" stroke="#b5e61d" stroke-width="7" stroke-linejoin="round" stroke-linecap="round" />
<path d="M1355.0,1392.7 C1357.9,1392.7 1366.8,1393.8 1372.6,1392.7 C1378.5,1391.5 1385.0,1388.0 1390.3,1385.6 C1395.5,1383.3 1398.5,1381.2 1404.4,1378.6 C1410.2,1375.9 1418.5,1374.7 1425.5,1369.8 C1432.6,1364.8 1439.6,1356.8 1446.7,1348.6 C1453.7,1340.4 1460.8,1331.0 1467.8,1320.4 C1474.9,1309.8 1483.1,1297.5 1489.0,1285.1 C1494.8,1272.8 1499.5,1258.1 1503.1,1246.4 C1506.6,1234.6 1507.2,1228.7 1510.1,1214.6 C1513.0,1200.5 1517.2,1181.2 1520.7,1161.8 C1524.2,1142.4 1527.7,1120.1 1531.3,1098.3 C1534.8,1076.6 1538.9,1048.3 1541.8,1031.3 C1544.8,1014.4 1547.4,1003.2 1549.0,996.6 C1550.6,990.0 1550.9,992.8 1551.3,992.0" fill="none" stroke="#ff2a2a" stroke-width="3.2" stroke-linejoin="round" stroke-linecap="round" />
<path d="M1614.2,1004.0 C1614.7,1006.7 1615.9,1012.9 1617.0,1020.0 C1618.1,1027.1 1618.4,1034.4 1620.6,1046.6 C1622.8,1058.8 1627.3,1077.4 1630.0,1093.0 C1632.7,1108.6 1634.3,1124.4 1637.0,1140.0 C1639.7,1155.6 1643.3,1171.0 1646.0,1186.5 C1648.7,1202.0 1650.7,1217.4 1653.0,1233.0 C1655.3,1248.6 1657.2,1266.4 1660.0,1280.0 C1662.8,1293.6 1665.7,1303.9 1669.6,1314.7 C1673.5,1325.5 1678.4,1335.3 1683.5,1345.0 C1688.6,1354.7 1695.2,1365.2 1700.0,1373.0 C1704.8,1380.8 1708.4,1386.7 1712.0,1392.0 C1715.6,1397.3 1717.0,1402.8 1721.6,1405.0 C1726.1,1407.2 1732.8,1402.1 1739.3,1405.0 C1745.8,1407.9 1753.4,1420.8 1760.4,1422.6 C1767.5,1424.4 1775.1,1413.8 1781.6,1415.6 C1788.1,1417.4 1791.0,1429.7 1799.2,1433.2 C1807.4,1436.7 1822.7,1436.4 1830.9,1436.7 C1839.1,1437.0 1842.6,1434.4 1848.5,1435.0 C1854.4,1435.6 1857.6,1439.7 1866.2,1440.3 C1874.8,1440.9 1894.4,1438.8 1900.0,1438.5" fill="none" stroke="#ff2a2a" stroke-width="3.2" stroke-linejoin="round" stroke-linecap="round" />
<path d="M1900.0,1440.0 L1908.0,1438.0 L1914.0,1442.0 L1920.0,1441.0 L1925.0,1443.0 L1930.0,1440.0 L1936.0,1446.0 L1942.0,1447.0 L1948.0,1443.0 L1955.0,1446.0 L1962.0,1447.0 L1970.0,1443.0 L1976.0,1443.0 L1982.0,1450.0 L1990.0,1450.0 L2000.0,1447.0 L2010.0,1447.0 L2020.0,1450.0 L2030.0,1448.0 L2042.0,1451.0 L2052.0,1450.0 L2060.0,1446.0 L2070.0,1450.0 L2080.0,1450.0 L2090.0,1449.0 L2100.0,1451.0 L2110.0,1449.0 L2120.0,1450.0 L2130.0,1451.0 L2140.0,1450.0 L2150.0,1451.0 L2160.0,1450.0 L2170.0,1452.0 L2180.0,1452.0 L2188.0,1449.0 L2195.0,1452.0 L2205.0,1449.0 L2215.0,1451.0 L2225.0,1452.0 L2231.0,1453.0" fill="none" stroke="#ff2a2a" stroke-width="3.2" stroke-linejoin="round" stroke-linecap="round" />
<path d="M1568.0,951.0 L1570.0,947.6 L1573.4,938.3 L1577.0,930.2 L1581.0,934.0 L1586.2,941.8" fill="none" stroke="#ff3030" stroke-width="4" stroke-linejoin="round" stroke-linecap="round" />
<path d="M1551.3,992.0 L1551.3,981.4 L1554.2,960.5 L1558.3,957.0 L1561.8,953.5 L1566.4,951.1 L1570.0,951.1" fill="none" stroke="#ee1c25" stroke-width="6.5" stroke-linejoin="round" stroke-linecap="round" />
<path d="M1586.2,941.8 L1590.9,946.5 L1593.2,950.0 L1599.0,954.6 L1605.0,959.3 L1606.0,996.6 L1610.7,1002.4 L1614.2,1004.0" fill="none" stroke="#ee1c25" stroke-width="6.5" stroke-linejoin="round" stroke-linecap="round" />
<path d="M810.0,171.7 L815.0,171.7" fill="none" stroke="#3d3dd6" stroke-width="3" stroke-linejoin="round" stroke-linecap="round" stroke-linecap="square"/>
<path d="M816.0,186.0 L816.0,211.0" fill="none" stroke="#7050d0" stroke-width="2.5" stroke-linejoin="round" stroke-linecap="round" stroke-linecap="square"/>
<path d="M810.0,213.6 L820.0,213.6" fill="none" stroke="#3d3dd6" stroke-width="3" stroke-linejoin="round" stroke-linecap="round" stroke-linecap="square"/>
<path d="M859.0,175.0 L869.0,175.0" fill="none" stroke="#3d3dd6" stroke-width="3" stroke-linejoin="round" stroke-linecap="round" stroke-linecap="square"/>
<path d="M868.0,191.0 L868.0,215.0" fill="none" stroke="#3d3dd6" stroke-width="6" stroke-linejoin="round" stroke-linecap="round" stroke-linecap="square"/>
<path d="M857.0,216.0 L876.0,216.0" fill="none" stroke="#3d3dd6" stroke-width="3" stroke-linejoin="round" stroke-linecap="round" stroke-linecap="square"/>
<path d="M789.0,260.8 L794.0,260.8" fill="none" stroke="#3d3dd6" stroke-width="3" stroke-linejoin="round" stroke-linecap="round" stroke-linecap="square"/>
<path d="M786.5,274.0 L791.5,292.0" fill="none" stroke="#9050c0" stroke-width="3.5" stroke-linejoin="round" stroke-linecap="round" stroke-linecap="square"/>
<path d="M823.0,260.8 L830.0,260.8" fill="none" stroke="#3d3dd6" stroke-width="3" stroke-linejoin="round" stroke-linecap="round" stroke-linecap="square"/>
<path d="M816.0,284.4 L821.0,284.4" fill="none" stroke="#3d3dd6" stroke-width="3" stroke-linejoin="round" stroke-linecap="round" stroke-linecap="square"/>
<path d="M816.0,298.4 L821.0,298.4" fill="none" stroke="#3d3dd6" stroke-width="3" stroke-linejoin="round" stroke-linecap="round" stroke-linecap="square"/>
<path d="M866.7,260.8 L873.0,260.8" fill="none" stroke="#3d3dd6" stroke-width="3" stroke-linejoin="round" stroke-linecap="round" stroke-linecap="square"/>
<path d="M866.7,281.0 L873.0,281.0" fill="none" stroke="#3d3dd6" stroke-width="3" stroke-linejoin="round" stroke-linecap="round" stroke-linecap="square"/>
<path d="M873.0,262.0 L874.0,292.0" fill="none" stroke="#7050d0" stroke-width="3" stroke-linejoin="round" stroke-linecap="round" stroke-linecap="square"/>
<path d="M883.5,278.0 L885.0,279.0" fill="none" stroke="#3d3dd6" stroke-width="3" stroke-linejoin="round" stroke-linecap="round" stroke-linecap="square"/>
<path d="M1565.0,941.0 L1570.0,947.0" fill="none" stroke="#3d3dd6" stroke-width="3" stroke-linejoin="round" stroke-linecap="round" stroke-linecap="square"/>
<path d="M1589.0,957.0 L1598.0,957.0" fill="none" stroke="#3d3dd6" stroke-width="3" stroke-linejoin="round" stroke-linecap="round" stroke-linecap="square"/>
<path d="M1593.0,984.0 L1593.0,989.0" fill="none" stroke="#3d3dd6" stroke-width="3" stroke-linejoin="round" stroke-linecap="round" stroke-linecap="square"/>
<path d="M1607.0,988.0 L1616.0,988.0" fill="none" stroke="#3d3dd6" stroke-width="3" stroke-linejoin="round" stroke-linecap="round" stroke-linecap="square"/>
<path d="M1538.0,1127.0 L1538.0,1132.0" fill="none" stroke="#3d3dd6" stroke-width="3" stroke-linejoin="round" stroke-linecap="round" stroke-linecap="square"/>
<path d="M1631.0,1138.0 L1636.0,1150.0" fill="none" stroke="#3d3dd6" stroke-width="3" stroke-linejoin="round" stroke-linecap="round" stroke-linecap="square"/>
<path d="M1409.0,1175.0 L1411.0,1176.0" fill="none" stroke="#ff3020" stroke-width="3" stroke-linejoin="round" stroke-linecap="round" stroke-linecap="square"/>
<path d="M1409.0,1212.0 L1411.0,1213.0" fill="none" stroke="#ff3020" stroke-width="3" stroke-linejoin="round" stroke-linecap="round" stroke-linecap="square"/>
<path d="M668.0,972.0 L673.0,978.0" fill="none" stroke="#3d3dd6" stroke-width="3" stroke-linejoin="round" stroke-linecap="round" stroke-linecap="square"/>
<path d="M796.0,1153.0 L799.0,1158.0" fill="none" stroke="#3d3dd6" stroke-width="3" stroke-linejoin="round" stroke-linecap="round" stroke-linecap="square"/>
<path d="M577.0,1199.0 L577.0,1205.0" fill="none" stroke="#d040a0" stroke-width="3" stroke-linejoin="round" stroke-linecap="round" stroke-linecap="square"/>
<rect x="270" y="133.2" width="4" height="3" fill="#9ee0b0"/>
<rect x="270" y="164.0" width="4" height="3" fill="#9ee0b0"/>
<rect x="270" y="188.5" width="4" height="3" fill="#9ed4f0"/>
<rect x="270" y="219.2" width="4" height="3" fill="#9ed4f0"/>
<rect x="486" y="378.8" width="4" height="3" fill="#ff4060"/>
<rect x="953" y="126.5" width="4" height="3" fill="#f08080"/>
<rect x="2200.5" y="1020.2" width="4" height="3" fill="#f07070"/>
<rect x="671.8" y="1255.7" width="4" height="3" fill="#f0a040"/>
<rect x="811.8" y="1188.5" width="4" height="3" fill="#f0b060"/>
<rect x="731" y="948.2" width="4" height="3" fill="#a0d0a0"/>
<rect x="244" y="46.5" width="844" height="631.0" fill="none" stroke="#737373" stroke-width="4.5"/>
<rect x="1334.5" y="48.5" width="903.0" height="638.0" fill="none" stroke="#737373" stroke-width="4.5"/>
<rect x="253.5" y="935" width="842.2" height="582.5" fill="none" stroke="#737373" stroke-width="4.5"/>
<rect x="1356.5" y="918.5" width="875.5" height="598.0999999999999" fill="none" stroke="#737373" stroke-width="4.5"/>
<path d="M730.6,167.8 L794.9,207.6 M775,175.5 L794.9,207.6 L755,207.6" fill="none" stroke="#000" stroke-width="6" stroke-linejoin="miter" stroke-linecap="butt"/>
<path d="M673.5,438 L736.6,477 M718,445.5 L736.6,477 L696.7,475" fill="none" stroke="#000" stroke-width="6" stroke-linejoin="miter" stroke-linecap="butt"/>
<path d="M1889.6,131 L1952.7,168.8 M1933.7,138.8 L1952.7,168.8 L1913.2,168.8" fill="none" stroke="#000" stroke-width="6" stroke-linejoin="miter" stroke-linecap="butt"/>
<path d="M1820.6,479 L1884,516.8 M1865,486.8 L1884,516.8 L1845,515.7" fill="none" stroke="#000" stroke-width="6" stroke-linejoin="miter" stroke-linecap="butt"/>
<path d="M581,954 L644.4,993.5 M629,961 L644.4,993.5 L605,991.8" fill="none" stroke="#000" stroke-width="6" stroke-linejoin="miter" stroke-linecap="butt"/>
<path d="M449,1269.3 L508.1,1307.6 M488.4,1275 L508.1,1307.6 L469.9,1306.4" fill="none" stroke="#000" stroke-width="6" stroke-linejoin="miter" stroke-linecap="butt"/>
<path d="M1665.3,932.7 L1625.2,995 M1628.2,959.4 L1625.2,995 L1659.4,978.7" fill="none" stroke="#000" stroke-width="6" stroke-linejoin="miter" stroke-linecap="butt"/>
<path d="M1604,1260.7 L1563.5,1323.6 M1567.7,1285.2 L1563.5,1323.6 L1597.6,1303.3" fill="none" stroke="#000" stroke-width="6" stroke-linejoin="miter" stroke-linecap="butt"/>
<text transform="matrix(0.7278,0,0,0.7206,426.23,180.16)" font-size="100" font-weight="400" fill="#000" stroke="#fff" stroke-width="1.3">528.71 eV</text>
<text transform="matrix(0.5522,0,0,0.5448,500.69,236.91)" font-size="100" font-weight="700" fill="#22ad52" stroke="#fff" stroke-width="0.8">75.89 %</text>
<text transform="matrix(0.7296,0,0,0.6971,889.15,114.41)" font-size="100" font-weight="700" fill="#4141cc" stroke="#fff" stroke-width="0.8">O 1S</text>
<text transform="matrix(0.7307,0,0,0.7194,368.62,459.76)" font-size="100" font-weight="400" fill="#000" stroke="#fff" stroke-width="1.3">530.43 eV</text>
<text transform="matrix(0.5647,0,0,0.5515,456.04,521.20)" font-size="100" font-weight="700" fill="#0ea2e6" stroke="#fff" stroke-width="0.8">24.11 %</text>
<text transform="matrix(0.8043,0,0,0.8090,151.28,145.18)" font-size="100" font-weight="400" fill="#000" stroke="#fff" stroke-width="1.3">80</text>
<text transform="matrix(0.8528,0,0,0.8090,144.83,305.98)" font-size="100" font-weight="400" fill="#000" stroke="#fff" stroke-width="1.3">70</text>
<text transform="matrix(0.8446,0,0,0.7821,145.62,468.64)" font-size="100" font-weight="400" fill="#000" stroke="#fff" stroke-width="1.3">60</text>
<text transform="matrix(0.8222,0,0,0.8090,149.57,643.78)" font-size="100" font-weight="400" fill="#000" stroke="#fff" stroke-width="1.3">50</text>
<text transform="matrix(0.8250,0,0,0.7940,303.95,766.21)" font-size="100" font-weight="400" fill="#000" stroke="#fff" stroke-width="1.3">540</text>
<text transform="matrix(0.8191,0,0,0.8164,484.89,763.07)" font-size="100" font-weight="400" fill="#000" stroke="#fff" stroke-width="1.3">536</text>
<text transform="matrix(0.8370,0,0,0.8167,646.48,763.88)" font-size="100" font-weight="400" fill="#000" stroke="#fff" stroke-width="1.3">532</text>
<text transform="matrix(0.8250,0,0,0.8328,814.05,770.73)" font-size="100" font-weight="400" fill="#000" stroke="#fff" stroke-width="1.3">528</text>
<text transform="matrix(0.8134,0,0,0.8288,983.42,764.67)" font-size="100" font-weight="400" fill="#000" stroke="#fff" stroke-width="1.3">524</text>
<text transform="matrix(0.9345,0,0,0.9407,479.20,843.15)" font-size="100" font-weight="400" fill="#000" stroke="#fff" stroke-width="1.3">Energy, eV</text>
<text transform="matrix(0,-0.8071,0.8000,0,125.50,494.83)" font-size="100" font-weight="400" fill="#000" stroke="#fff" stroke-width="1.3">CPS</text>
<text transform="matrix(0,-0.5925,0.6750,0,122.78,349.44)" font-size="100" font-weight="400" fill="#000" stroke="#fff" stroke-width="1.3">×</text>
<text transform="matrix(0,-0.7977,0.7882,0,125.52,318.18)" font-size="100" font-weight="400" fill="#000" stroke="#fff" stroke-width="1.3">10</text>
<text transform="matrix(0,-0.6698,0.8800,0,89.40,241.95)" font-size="100" font-weight="400" fill="#000" stroke="#fff" stroke-width="1.3">−2</text>
<text transform="matrix(0.7271,0,0,0.7060,1574.54,154.79)" font-size="100" font-weight="400" fill="#000" stroke="#fff" stroke-width="1.3">528.72 eV</text>
<text transform="matrix(0.5503,0,0,0.5338,1632.35,216.63)" font-size="100" font-weight="700" fill="#22ad52" stroke="#fff" stroke-width="0.8">83.61 %</text>
<text transform="matrix(0.7211,0,0,0.6941,2048.39,124.81)" font-size="100" font-weight="700" fill="#4141cc" stroke="#fff" stroke-width="0.8">O 1S</text>
<text transform="matrix(0.7278,0,0,0.6868,1526.73,496.53)" font-size="100" font-weight="400" fill="#000" stroke="#fff" stroke-width="1.3">530.31 eV</text>
<text transform="matrix(0.5529,0,0,0.5412,1601.28,551.42)" font-size="100" font-weight="700" fill="#c0805c" stroke="#fff" stroke-width="0.8">16.39%</text>
<text transform="matrix(0.7742,0,0,0.7409,1241.68,86.56)" font-size="100" font-weight="400" fill="#000" stroke="#fff" stroke-width="1.3">95</text>
<text transform="matrix(0.8043,0,0,0.7299,1240.78,185.84)" font-size="100" font-weight="400" fill="#000" stroke="#fff" stroke-width="1.3">85</text>
<text transform="matrix(0.8090,0,0,0.8045,1238.34,307.00)" font-size="100" font-weight="400" fill="#000" stroke="#fff" stroke-width="1.3">75</text>
<text transform="matrix(0.7826,0,0,0.7612,1240.87,426.48)" font-size="100" font-weight="400" fill="#000" stroke="#fff" stroke-width="1.3">65</text>
<text transform="matrix(0.8000,0,0,0.8045,1239.20,547.80)" font-size="100" font-weight="400" fill="#000" stroke="#fff" stroke-width="1.3">55</text>
<text transform="matrix(0.8000,0,0,0.7727,1239.20,660.03)" font-size="100" font-weight="400" fill="#000" stroke="#fff" stroke-width="1.3">45</text>
<text transform="matrix(0.8293,0,0,0.8313,1402.72,770.04)" font-size="100" font-weight="400" fill="#000" stroke="#fff" stroke-width="1.3">540</text>
<text transform="matrix(0.8241,0,0,0.8313,1586.76,770.04)" font-size="100" font-weight="400" fill="#000" stroke="#fff" stroke-width="1.3">536</text>
<text transform="matrix(0.8420,0,0,0.8439,1770.75,770.86)" font-size="100" font-weight="400" fill="#000" stroke="#fff" stroke-width="1.3">532</text>
<text transform="matrix(0.8143,0,0,0.8179,1948.41,775.76)" font-size="100" font-weight="400" fill="#000" stroke="#fff" stroke-width="1.3">528</text>
<text transform="matrix(0.7873,0,0,0.8303,2132.68,774.37)" font-size="100" font-weight="400" fill="#000" stroke="#fff" stroke-width="1.3">524</text>
<text transform="matrix(0.9350,0,0,0.9337,1599.90,853.39)" font-size="100" font-weight="400" fill="#000" stroke="#fff" stroke-width="1.3">Energy, eV</text>
<text transform="matrix(0,-0.8244,0.7985,0,1221.90,477.00)" font-size="100" font-weight="400" fill="#000" stroke="#fff" stroke-width="1.3">CPS</text>
<text transform="matrix(0,-0.6025,0.6825,0,1219.77,329.52)" font-size="100" font-weight="400" fill="#000" stroke="#fff" stroke-width="1.3">×</text>
<text transform="matrix(0,-0.8207,0.7868,0,1221.93,299.59)" font-size="100" font-weight="400" fill="#000" stroke="#fff" stroke-width="1.3">10</text>
<text transform="matrix(0,-0.6781,0.7862,0,1186.70,221.09)" font-size="100" font-weight="400" fill="#000" stroke="#fff" stroke-width="1.3">−2</text>
<text transform="matrix(0.7256,0,0,0.7164,273.95,995.47)" font-size="100" font-weight="400" fill="#000" stroke="#fff" stroke-width="1.3">484.92 eV</text>
<text transform="matrix(0.5540,0,0,0.5642,357.84,1050.67)" font-size="100" font-weight="700" fill="#22ad52" stroke="#fff" stroke-width="0.8">83.43%</text>
<text transform="matrix(0.7055,0,0,0.6761,827.97,1012.65)" font-size="100" font-weight="700" fill="#4141cc" stroke="#fff" stroke-width="0.8">Sn 3d</text>
<text transform="matrix(0.7285,0,0,0.7090,273.54,1258.58)" font-size="100" font-weight="400" fill="#000" stroke="#fff" stroke-width="1.3">485.98 eV</text>
<text transform="matrix(0.5538,0,0,0.5456,278.77,1333.11)" font-size="100" font-weight="700" fill="#c0805c" stroke="#fff" stroke-width="0.8">16.57 %</text>
<text transform="matrix(0.7935,0,0,0.8030,157.83,1029.19)" font-size="100" font-weight="400" fill="#000" stroke="#fff" stroke-width="1.3">60</text>
<text transform="matrix(0.8181,0,0,0.8030,153.76,1204.19)" font-size="100" font-weight="400" fill="#000" stroke="#fff" stroke-width="1.3">40</text>
<text transform="matrix(0.8359,0,0,0.7910,152.06,1370.42)" font-size="100" font-weight="400" fill="#000" stroke="#fff" stroke-width="1.3">20</text>
<text transform="matrix(0.8238,0,0,0.7761,194.40,1536.95)" font-size="100" font-weight="400" fill="#000" stroke="#fff" stroke-width="1.3">0</text>
<text transform="matrix(0.8118,0,0,0.7791,257.18,1602.84)" font-size="100" font-weight="400" fill="#000" stroke="#fff" stroke-width="1.3">489</text>
<text transform="matrix(0.8207,0,0,0.7791,447.06,1602.84)" font-size="100" font-weight="400" fill="#000" stroke="#fff" stroke-width="1.3">487</text>
<text transform="matrix(0.8264,0,0,0.7791,636.95,1602.84)" font-size="100" font-weight="400" fill="#000" stroke="#fff" stroke-width="1.3">485</text>
<text transform="matrix(0.8111,0,0,0.7791,831.18,1602.84)" font-size="100" font-weight="400" fill="#000" stroke="#fff" stroke-width="1.3">483</text>
<text transform="matrix(0.7789,0,0,0.7676,1014.84,1602.86)" font-size="100" font-weight="400" fill="#000" stroke="#fff" stroke-width="1.3">481</text>
<text transform="matrix(0.9280,0,0,0.9465,498.12,1686.72)" font-size="100" font-weight="400" fill="#000" stroke="#fff" stroke-width="1.3">Energy, eV</text>
<text transform="matrix(0.8026,0,0,0.6937,677.19,1764.31)" font-size="100" font-weight="400" fill="#000" stroke="#fff" stroke-width="1.3">a</text>
<text transform="matrix(0,-0.8179,0.8045,0,125.79,1376.67)" font-size="100" font-weight="400" fill="#000" stroke="#fff" stroke-width="1.3">CPS</text>
<text transform="matrix(0,-0.6025,0.7325,0,122.82,1230.42)" font-size="100" font-weight="400" fill="#000" stroke="#fff" stroke-width="1.3">×</text>
<text transform="matrix(0,-0.8069,0.7926,0,125.81,1199.26)" font-size="100" font-weight="400" fill="#000" stroke="#fff" stroke-width="1.3">10</text>
<text transform="matrix(0,-0.6745,0.7242,0,85.98,1123.07)" font-size="100" font-weight="400" fill="#000" stroke="#fff" stroke-width="1.3">−3</text>
<text transform="matrix(0.7278,0,0,0.6985,1683.14,978.10)" font-size="100" font-weight="400" fill="#000" stroke="#fff" stroke-width="1.3">484.58 eV</text>
<text transform="matrix(0.5533,0,0,0.5403,1730.34,1029.52)" font-size="100" font-weight="700" fill="#22ad52" stroke="#fff" stroke-width="0.8">88.99 %</text>
<text transform="matrix(0.7042,0,0,0.6690,2017.98,995.16)" font-size="100" font-weight="700" fill="#4141cc" stroke="#fff" stroke-width="0.8">Sn 3d</text>
<text transform="matrix(0.7292,0,0,0.7000,1676.14,1244.30)" font-size="100" font-weight="400" fill="#000" stroke="#fff" stroke-width="1.3">485.08 eV</text>
<text transform="matrix(0.5642,0,0,0.5485,1709.39,1292.60)" font-size="100" font-weight="700" fill="#c0805c" stroke="#fff" stroke-width="0.8">11.01 %</text>
<text transform="matrix(0.8065,0,0,0.7866,1256.57,1038.83)" font-size="100" font-weight="400" fill="#000" stroke="#fff" stroke-width="1.3">60</text>
<text transform="matrix(0.7277,0,0,0.7851,1264.14,1216.43)" font-size="100" font-weight="400" fill="#000" stroke="#fff" stroke-width="1.3">40</text>
<text transform="matrix(0.7435,0,0,0.7896,1262.63,1394.32)" font-size="100" font-weight="400" fill="#000" stroke="#fff" stroke-width="1.3">20</text>
<text transform="matrix(0.7905,0,0,0.7284,1297.64,1531.14)" font-size="100" font-weight="400" fill="#000" stroke="#fff" stroke-width="1.3">0</text>
<text transform="matrix(0.8340,0,0,0.8015,1342.63,1595.70)" font-size="100" font-weight="400" fill="#000" stroke="#fff" stroke-width="1.3">488</text>
<text transform="matrix(0.8082,0,0,0.8015,1557.18,1595.70)" font-size="100" font-weight="400" fill="#000" stroke="#fff" stroke-width="1.3">484</text>
<text transform="matrix(0.8347,0,0,0.8015,1767.33,1595.70)" font-size="100" font-weight="400" fill="#000" stroke="#fff" stroke-width="1.3">480</text>
<text transform="matrix(0.7986,0,0,0.8015,1977.70,1595.70)" font-size="100" font-weight="400" fill="#000" stroke="#fff" stroke-width="1.3">476</text>
<text transform="matrix(0.9345,0,0,0.9233,1603.20,1683.01)" font-size="100" font-weight="400" fill="#000" stroke="#fff" stroke-width="1.3">Energy, eV</text>
<text transform="matrix(0.7000,0,0,0.7043,1794.80,1770.30)" font-size="100" font-weight="400" fill="#000" stroke="#fff" stroke-width="1.3">b</text>
<text transform="matrix(0,-0.8179,0.7985,0,1242.20,1376.67)" font-size="100" font-weight="400" fill="#000" stroke="#fff" stroke-width="1.3">CPS</text>
<text transform="matrix(0,-0.6025,0.7600,0,1241.08,1230.42)" font-size="100" font-weight="400" fill="#000" stroke="#fff" stroke-width="1.3">×</text>
<text transform="matrix(0,-0.8195,0.7868,0,1242.23,1199.38)" font-size="100" font-weight="400" fill="#000" stroke="#fff" stroke-width="1.3">10</text>
<text transform="matrix(0,-0.6847,0.7152,0,1202.18,1123.12)" font-size="100" font-weight="400" fill="#000" stroke="#fff" stroke-width="1.3">−3</text>
</svg>
</body></html>
